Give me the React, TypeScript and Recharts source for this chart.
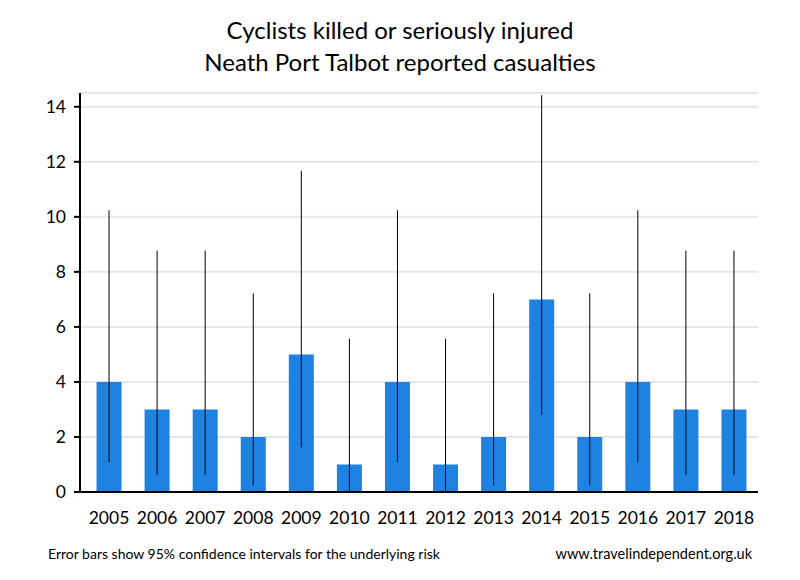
import React from 'react';
import { BarChart, Bar, XAxis, YAxis, CartesianGrid, ErrorBar } from 'recharts';

// casualties per year (KSI cyclists)
const years = ['2005', '2006', '2007', '2008', '2009', '2010', '2011', '2012', '2013', '2014', '2015', '2016', '2017', '2018'];
const casualties = [4, 3, 3, 2, 5, 1, 4, 1, 2, 7, 2, 4, 3, 3];
// 95% CI bounds
const ciLow = [1.09, 0.62, 0.62, 0.24, 1.62, 0.03, 1.09, 0.03, 0.24, 2.81, 0.24, 1.09, 0.62, 0.62];
const ciHigh = [10.24, 8.77, 8.77, 7.22, 11.67, 5.57, 10.24, 5.57, 7.22, 14.42, 7.22, 10.24, 8.77, 8.77];
const yTicks = [0, 2, 4, 6, 8, 10, 12, 14];

const FONT = 'Lato, Calibri, sans-serif';

const data = years.map((year, i) => ({
  year,
  value: casualties[i],
  ci: [casualties[i] - ciLow[i], ciHigh[i] - casualties[i]],
}));

export default function App() {
  return (
    <div style={{ position: 'absolute', left: 0, top: 0, width: 800, height: 580, background: '#fff', fontFamily: FONT }}>
      <div style={{ position: 'absolute', top: 14, width: 800, textAlign: 'center', fontSize: 24, lineHeight: '32px', color: '#000' }}>
        <div>Cyclists killed or seriously injured</div>
        <div>Neath Port Talbot reported casualties</div>
      </div>
      <BarChart
        width={800}
        height={580}
        data={data}
        margin={{ top: 93, right: 42, left: 0, bottom: 48 }}
        barCategoryGap="24%"
      >
        <CartesianGrid vertical={false} stroke="#e6e6e6" strokeWidth={2} />
        <XAxis
          dataKey="year"
          padding={{ left: 5, right: 0 }}
          height={40}
          axisLine={{ stroke: '#000', strokeWidth: 2 }}
          tickLine={false}
          tickSize={0}
          tickMargin={20}
          tick={{ fill: '#000', fontSize: 17.5, fontFamily: FONT }}
          interval={0}
        />
        <YAxis
          width={80}
          domain={[0, 14.5]}
          ticks={yTicks}
          axisLine={{ stroke: '#000', strokeWidth: 2 }}
          tickLine={{ stroke: '#000', strokeWidth: 2 }}
          tickSize={6}
          tickMargin={8}
          tick={{ fill: '#000', fontSize: 17.5, fontFamily: FONT }}
        />
        <Bar dataKey="value" fill="#1e82e0" isAnimationActive={false}>
          <ErrorBar dataKey="ci" direction="y" width={0} stroke="#000" strokeWidth={1} />
        </Bar>
      </BarChart>
      <div style={{ position: 'absolute', left: 48, top: 545, fontSize: 14, color: '#000' }}>
        Error bars show 95% confidence intervals for the underlying risk
      </div>
      <div style={{ position: 'absolute', right: 48, top: 545, fontSize: 14.5, color: '#000' }}>
        www.travelindependent.org.uk
      </div>
    </div>
  );
}
